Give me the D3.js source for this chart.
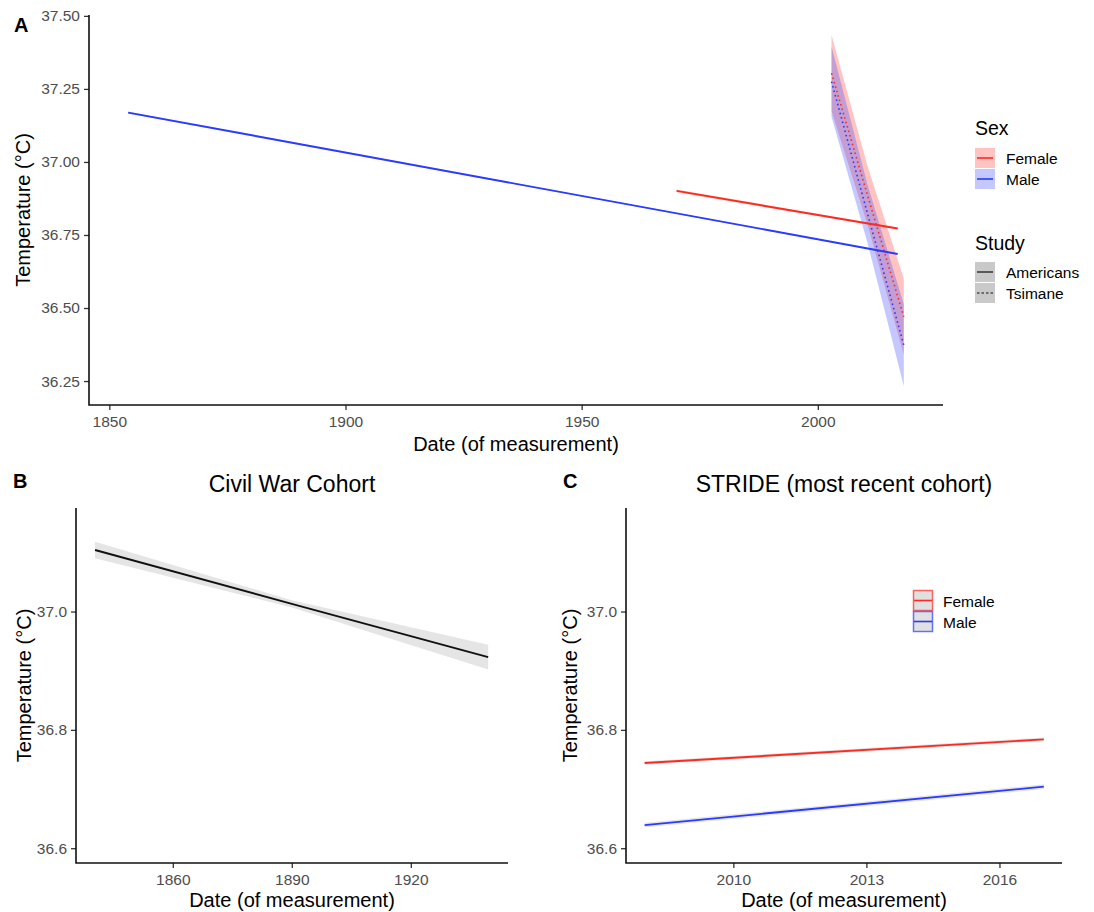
<!DOCTYPE html>
<html>
<head>
<meta charset="utf-8">
<script src="https://cdn.jsdelivr.net/npm/d3@7"></script>
<style>
  body { margin: 0; background: #fff; }
  svg text { font-family: "Liberation Sans", Arial, Helvetica, sans-serif; }
</style>
</head>
<body>
<svg id="chart" width="1094" height="912"></svg>
<script>
// # DATA
// # ------------------------------
// # ------------------------------

// ## panel A (all studies)
var a_xticks = [1850, 1900, 1950, 2000];
var a_yticks = [36.25, 36.50, 36.75, 37.00, 37.25, 37.50];

var a_us_female_years = [1970.1, 2016.9];
var a_us_female_fit   = [36.901, 36.772];
var a_us_female_lo    = [36.896, 36.769];
var a_us_female_hi    = [36.906, 36.775];

var a_us_male_years = [1854.0, 2016.9];
var a_us_male_fit   = [37.169, 36.685];
var a_us_male_lo    = [37.166, 36.683];
var a_us_male_hi    = [37.172, 36.687];

var a_ts_female_years = [2002.9, 2010.5, 2018.2];
var a_ts_female_fit   = [37.304, 36.887, 36.470];
var a_ts_female_lo    = [37.174, 36.787, 36.340];
var a_ts_female_hi    = [37.434, 36.987, 36.600];

var a_ts_male_years = [2002.9, 2010.5, 2018.2];
var a_ts_male_fit   = [37.275, 36.824, 36.373];
var a_ts_male_lo    = [37.155, 36.724, 36.233];
var a_ts_male_hi    = [37.395, 36.924, 36.513];

// ## panel B (civil war)
var b_xticks = [1860, 1890, 1920];
var b_yticks = [36.6, 36.8, 37.0];
var b_years = [1840.4, 1890.0, 1939.5];
var b_fit   = [37.104, 37.013, 36.923];
var b_lo    = [37.090, 37.007, 36.902];
var b_hi    = [37.118, 37.019, 36.944];

// ## panel C (stride)
var c_xticks = [2010, 2013, 2016];
var c_yticks = [36.6, 36.8, 37.0];
var c_female_years = [2008.0, 2017.0];
var c_female_fit   = [36.744, 36.784];
var c_female_lo    = [36.741, 36.781];
var c_female_hi    = [36.747, 36.787];
var c_male_years = [2008.0, 2017.0];
var c_male_fit   = [36.639, 36.704];
var c_male_lo    = [36.635, 36.700];
var c_male_hi    = [36.643, 36.708];

var sex_labels   = ["Female", "Male"];
var study_labels = ["Americans", "Tsimane"];

// # STYLE
// # ------------------------------
var red      = "#ff2a1f";
var blue     = "#2a3aff";
var tick_col = "#4d4d4d";

var svg = d3.select("#chart");

// # MISC FUNCTIONS
// # ------------------------------

// ## to_rows
var to_rows = function(years, fit, lo, hi) {
  return years.map(function(d, i) { return {x: d, y: fit[i], lo: lo[i], hi: hi[i]} });
}

// ## draw_axes
var draw_axes = function(x, y, xticks, yticks, yfmt) {
  var g = svg.append("g");
  var x0 = x.range()[0], x1 = x.range()[1];
  var y0 = y.range()[0], y1 = y.range()[1];

  var gx = g.append("g").attr("transform", "translate(0," + y0 + ")")
    .call(d3.axisBottom(x).tickValues(xticks).tickFormat(d3.format("d")).tickSize(5).tickPadding(6));
  var gy = g.append("g").attr("transform", "translate(" + x0 + ",0)")
    .call(d3.axisLeft(y).tickValues(yticks).tickFormat(d3.format(yfmt)).tickSize(5).tickPadding(4));

  [gx, gy].forEach(function(a) {
    a.select(".domain").remove();
    a.selectAll("line").attr("stroke", "#333").attr("stroke-width", 1.3);
    a.selectAll("text").attr("fill", tick_col).style("font-size", "15.5px");
  });

  g.append("path")
    .attr("d", "M" + x0 + "," + y1 + "V" + y0 + "H" + x1)
    .attr("fill", "none").attr("stroke", "#111").attr("stroke-width", 1.6);
  return g;
}

// ## draw_fit
var draw_fit = function(x, y, rows, col, fill, opacity, dash) {
  var area = d3.area().x(function(d) { return x(d.x) })
    .y0(function(d) { return y(d.lo) }).y1(function(d) { return y(d.hi) });
  var line = d3.line().x(function(d) { return x(d.x) }).y(function(d) { return y(d.y) });

  svg.append("path").datum(rows).attr("d", area)
    .attr("fill", fill).attr("fill-opacity", opacity);
  svg.append("path").datum(rows).attr("d", line)
    .attr("fill", "none").attr("stroke", col).attr("stroke-width", dash ? 1.6 : 1.9)
    .attr("stroke-dasharray", dash ? "1.6,3" : null);
}

// ## add_text
var add_text = function(txt, x, y, size, opts) {
  opts = opts || {};
  var t = svg.append("text").text(txt)
    .attr("x", x).attr("y", y)
    .style("font-size", size + "px")
    .attr("fill", opts.fill || "#000")
    .attr("text-anchor", opts.anchor || "start");
  if (opts.bold) t.style("font-weight", "bold");
  if (opts.rotate) t.attr("transform", "rotate(-90," + x + "," + y + ")");
  return t;
}

// # PANEL A
// # ------------------------------
var xa = d3.scaleLinear().domain([1845.7, 2026.5]).range([89, 943]);
var ya = d3.scaleLinear().domain([36.168, 37.503]).range([405, 15]);

draw_fit(xa, ya, to_rows(a_ts_female_years, a_ts_female_fit, a_ts_female_lo, a_ts_female_hi), red, red, 0.28, false);
svg.selectAll("path").filter(function() { return d3.select(this).attr("stroke") == red }).remove();
draw_fit(xa, ya, to_rows(a_ts_male_years, a_ts_male_fit, a_ts_male_lo, a_ts_male_hi), blue, blue, 0.28, true);
// female tsimane line on top of both ribbons
draw_fit(xa, ya, to_rows(a_ts_female_years, a_ts_female_fit, a_ts_female_fit, a_ts_female_fit), red, "none", 0, true);
draw_fit(xa, ya, to_rows(a_us_female_years, a_us_female_fit, a_us_female_lo, a_us_female_hi), red, red, 0.25, false);
draw_fit(xa, ya, to_rows(a_us_male_years, a_us_male_fit, a_us_male_lo, a_us_male_hi), blue, blue, 0.25, false);

draw_axes(xa, ya, a_xticks, a_yticks, ".2f");
add_text("A", 14, 32, 20, {bold: true});
add_text("Temperature (°C)", 30, 210, 20, {anchor: "middle", rotate: true});
add_text("Date (of measurement)", 516, 451, 20, {anchor: "middle"});

// ## legend A
add_text("Sex", 975, 135, 19.5);
sex_labels.forEach(function(s, i) {
  var col = i == 0 ? red : blue;
  var ky = 148 + i * 21;
  svg.append("rect").attr("x", 975).attr("y", ky).attr("width", 20).attr("height", 20)
    .attr("fill", col).attr("fill-opacity", 0.28);
  svg.append("line").attr("x1", 977).attr("x2", 993).attr("y1", ky + 10).attr("y2", ky + 10)
    .attr("stroke", col).attr("stroke-width", 1.6);
  add_text(s, 1006, ky + 16, 15.5);
});

add_text("Study", 975, 250, 19.5);
study_labels.forEach(function(s, i) {
  var ky = 262 + i * 21;
  svg.append("rect").attr("x", 975).attr("y", ky).attr("width", 20).attr("height", 20)
    .attr("fill", "#c9c9c9");
  svg.append("line").attr("x1", 977).attr("x2", 993).attr("y1", ky + 10).attr("y2", ky + 10)
    .attr("stroke", "#111").attr("stroke-width", 1.2)
    .attr("stroke-dasharray", i == 1 ? "2.5,2" : null);
  add_text(s, 1006, ky + 16, 15.5);
});

// # PANEL B
// # ------------------------------
var xb = d3.scaleLinear().domain([1835.6, 1944.5]).range([76, 508]);
var yb = d3.scaleLinear().domain([36.575, 37.175]).range([863, 508]);

draw_fit(xb, yb, to_rows(b_years, b_fit, b_lo, b_hi), "#111", "#999", 0.25, false);
draw_axes(xb, yb, b_xticks, b_yticks, ".1f");
add_text("B", 13, 488, 20, {bold: true});
add_text("Civil War Cohort", 292, 492, 23, {anchor: "middle"});
add_text("Temperature (°C)", 31, 685.5, 20, {anchor: "middle", rotate: true});
add_text("Date (of measurement)", 292, 907, 20, {anchor: "middle"});

// # PANEL C
// # ------------------------------
var xc = d3.scaleLinear().domain([2007.58, 2017.41]).range([626, 1062]);
var yc = d3.scaleLinear().domain([36.575, 37.175]).range([863, 508]);

draw_fit(xc, yc, to_rows(c_female_years, c_female_fit, c_female_lo, c_female_hi), red, "#999", 0.25, false);
draw_fit(xc, yc, to_rows(c_male_years, c_male_fit, c_male_lo, c_male_hi), blue, "#999", 0.25, false);
draw_axes(xc, yc, c_xticks, c_yticks, ".1f");
add_text("C", 563, 488, 20, {bold: true});
add_text("STRIDE (most recent cohort)", 844, 492, 23, {anchor: "middle"});
add_text("Temperature (°C)", 577, 685.5, 20, {anchor: "middle", rotate: true});
add_text("Date (of measurement)", 844, 907, 20, {anchor: "middle"});

// ## legend C
sex_labels.forEach(function(s, i) {
  var col = i == 0 ? red : blue;
  var ky = 590.5 + i * 21;
  svg.append("rect").attr("x", 913.5).attr("y", ky).attr("width", 19).attr("height", 20)
    .attr("fill", "#e0e0e0").attr("stroke", col).attr("stroke-opacity", 0.7).attr("stroke-width", 1.5);
  svg.append("line").attr("x1", 914).attr("x2", 932).attr("y1", ky + 10).attr("y2", ky + 10)
    .attr("stroke", col).attr("stroke-width", 1.6);
  add_text(s, 943, ky + 16, 15.5);
});
</script>
</body>
</html>
